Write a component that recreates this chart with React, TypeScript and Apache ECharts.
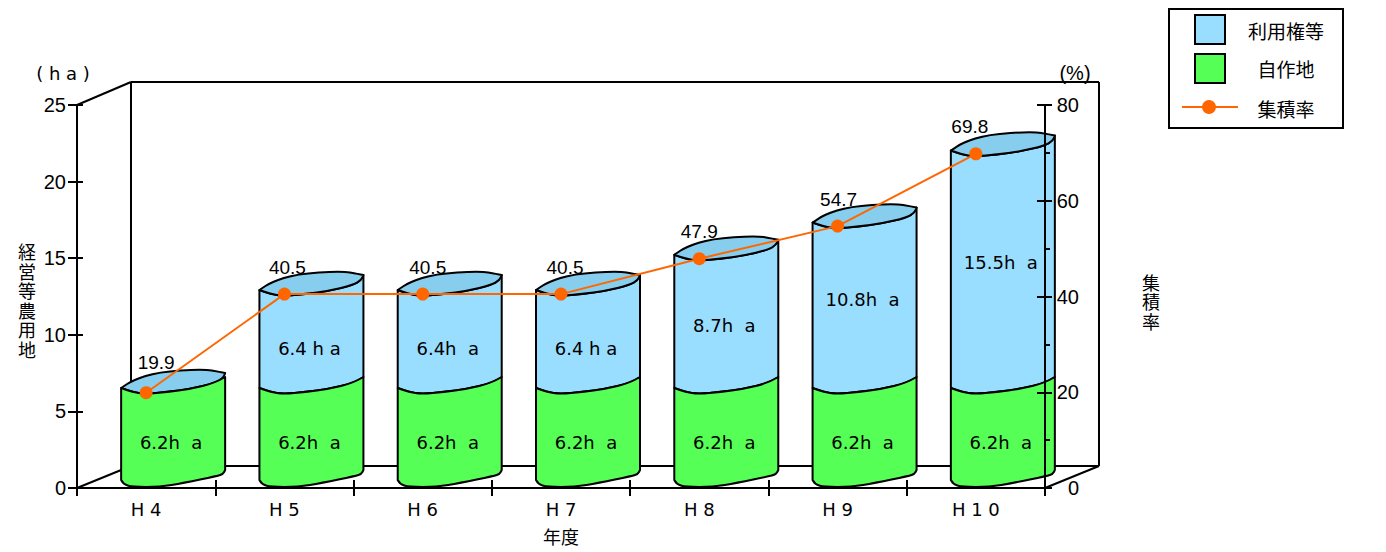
import React, { useEffect, useRef } from "react";
import * as echarts from "echarts";

const years = ["H 4", "H 5", "H 6", "H 7", "H 8", "H 9", "H 1 0"];
const ownedLand = [6.2, 6.2, 6.2, 6.2, 6.2, 6.2, 6.2];
const leasedLand = [0, 6.4, 6.4, 6.4, 8.7, 10.8, 15.5];
const ownedLabels = ["6.2h  a", "6.2h  a", "6.2h  a", "6.2h  a", "6.2h  a", "6.2h  a", "6.2h  a"];
const leasedLabels = ["", "6.4 h a", "6.4h  a", "6.4 h a", "8.7h  a", "10.8h  a", "15.5h  a"];
const leasedLabelLevels = [0, 9.1, 9.1, 9.1, 10.6, 12.3, 14.7];
const concentrationRate = [19.9, 40.5, 40.5, 40.5, 47.9, 54.7, 69.8];
const rateLabelOffsets = [[10, -9], [3, -6], [5, -6], [4, -6], [0, -6], [1, -6], [-6, -6]];

const ORANGE = "#FF6600";
const BLUE = "#99DDFF";
const BLUE_TOP = "#87CEEE";
const GREEN = "#55FF55";
const LATIN = '"Liberation Sans", Arial, sans-serif';
const WIDE = '"DejaVu Sans", sans-serif';
const CJK = '"Noto Sans CJK JP", sans-serif';

// Outline offsets of a drum around its category centre
const FRONT = [[-24, -5], [-13, -1], [0, 1], [22, -1], [45, -4], [70, -10], [78, -15], [80, -20]];
const SEAM = [[-24, -5], [-13, -1], [0, 1], [22, -1], [45, -4], [70, -10], [80, -16]];
const BACK = [[80, -20], [75, -21], [58, -24], [13, -21], [-12, -13], [-24, -5]];
const FOOT = [[-24, -8], [-22, -4], [-13, -1], [15, -1], [38, -5], [72, -12], [78, -14], [80, -18]];

type Pt = number[];
const place = (pts: Pt[], x: number, y: number) => pts.map((p) => [x + p[0], y + p[1]]);
const pen = (pts: Pt[], start: string) => {
  let d = `${start}${pts[0][0]} ${pts[0][1]}`;
  for (let i = 1; i < pts.length - 1; i++) {
    const mx = (pts[i][0] + pts[i + 1][0]) / 2;
    const my = (pts[i][1] + pts[i + 1][1]) / 2;
    d += `Q${pts[i][0]} ${pts[i][1]} ${mx} ${my}`;
  }
  const last = pts[pts.length - 1];
  return d + `L${last[0]} ${last[1]}`;
};

function drumBody(api: any, fill: string, withCap: boolean, labels: string[], levels: number[]) {
  const i = api.value(0);
  const [cx, yLow] = api.coord([i, api.value(1)]);
  const x = cx - 1;
  const yHigh = api.coord([i, api.value(2)])[1];
  const lower = place(api.value(1) === 0 ? FOOT : SEAM, x, yLow);
  const upper = place(withCap ? FRONT : SEAM, x, yHigh);
  const line = { stroke: "#000", lineWidth: 2, lineJoin: "round" };
  const children: any[] = [];
  if (yLow !== yHigh) {
    const outline = pen(lower, "M") + pen(upper.slice().reverse(), "L") + "Z";
    children.push({ type: "path", shape: { pathData: outline }, style: { fill, ...line } });
  }
  if (withCap) {
    const cap = pen(upper, "M") + pen(place(BACK, x, yHigh), "L") + "Z";
    children.push({ type: "path", shape: { pathData: cap }, style: { fill: BLUE_TOP, ...line } });
  }
  if (labels[i]) {
    children.push({
      type: "text",
      style: {
        x: x + 26,
        y: api.coord([i, levels[i]])[1],
        text: labels[i],
        align: "center",
        verticalAlign: "middle",
        fill: "#000",
        font: `18px ${WIDE}`,
      },
    });
  }
  return { type: "group", children };
}

const tickStyle = { show: true, lineStyle: { color: "#000", width: 2 } };
const frame = { stroke: "#000", lineWidth: 2 };
const frameLine = (x1: number, y1: number, x2: number, y2: number) => ({
  type: "line",
  shape: { x1, y1, x2, y2 },
  style: frame,
  z: 0,
});
const caption = (text: string, x: number, y: number, font: string) => ({
  type: "text",
  x,
  y,
  style: { text, font, fill: "#000", align: "center", verticalAlign: "middle" },
  z: 10,
});
const stackedCaption = (text: string, x: number, y: number) => ({
  type: "text",
  x,
  y,
  style: {
    text,
    font: `18px ${CJK}`,
    lineHeight: 19.5,
    fill: "#000",
    align: "center",
    verticalAlign: "middle",
  },
  z: 10,
});

export default function App() {
  const host = useRef<HTMLDivElement>(null);

  useEffect(() => {
    const chart = echarts.init(host.current!, undefined, { renderer: "svg" });
    const axisText = { color: "#000", fontFamily: LATIN, fontSize: 20 };
    const nameText = { color: "#000", fontFamily: CJK, fontSize: 18, lineHeight: 19.5 };

    chart.setOption({
      animation: false,
      backgroundColor: "#fff",
      grid: { left: 77, right: 341, top: 105, bottom: 64, outerBoundsMode: "none" },
      xAxis: [
        {
          type: "category",
          data: years,
          z: 6,
          name: "年度",
          nameLocation: "middle",
          nameGap: 38,
          nameTextStyle: nameText,
          axisLine: { lineStyle: { color: "#000", width: 2 } },
          axisTick: { ...tickStyle, length: 8 },
          axisLabel: { color: "#000", fontFamily: WIDE, fontSize: 18, margin: 12 },
        },
        {
          type: "category",
          data: years,
          position: "bottom",
          z: 6,
          axisLine: { show: false },
          axisTick: { ...tickStyle, inside: true, length: 8 },
          axisLabel: { show: false },
        },
      ],
      yAxis: [
        {
          type: "value",
          min: 0,
          max: 25,
          interval: 5,
          position: "left",
          z: 6,
          axisLine: { show: true, lineStyle: { color: "#000", width: 2 } },
          axisTick: { ...tickStyle, length: 9 },
          axisLabel: { ...axisText, margin: 11 },
          splitLine: { show: false },
        },
        {
          type: "value",
          min: 0,
          max: 80,
          interval: 20,
          position: "right",
          z: 6,
          axisLine: { show: true, lineStyle: { color: "#000", width: 2 } },
          axisTick: { ...tickStyle, length: 7 },
          minorTick: { show: true, splitNumber: 2, length: 5, lineStyle: { color: "#000", width: 2 } },
          axisLabel: { ...axisText, margin: 34, align: "right" },
          splitLine: { show: false },
        },
        {
          type: "value",
          min: 0,
          max: 25,
          interval: 5,
          position: "left",
          z: 6,
          axisLine: { show: false },
          axisTick: { ...tickStyle, inside: true, length: 6 },
          axisLabel: { show: false },
          splitLine: { show: false },
        },
        {
          type: "value",
          min: 0,
          max: 80,
          interval: 20,
          position: "right",
          z: 6,
          axisLine: { show: false },
          axisTick: { ...tickStyle, inside: true, length: 8 },
          axisLabel: { show: false },
          splitLine: { show: false },
        },
      ],
      graphic: {
        elements: [
          // Back walls and floor of the box the drums stand in
          frameLine(77, 105, 131, 82),
          frameLine(131, 82, 1099, 82),
          frameLine(131, 82, 131, 466),
          frameLine(1099, 82, 1099, 466),
          frameLine(131, 466, 1099, 466),
          frameLine(77, 488, 131, 466),
          frameLine(1045, 488, 1099, 466),
          caption("( h a )", 63, 73, `18px ${WIDE}`),
          caption("(%)", 1075, 73, `20px ${LATIN}`),
          stackedCaption("経\n営\n等\n農\n用\n地", 27, 300),
          stackedCaption("集\n積\n率", 1151, 301),
          // Key
          { type: "rect", shape: { x: 1169, y: 9, width: 174, height: 119 }, style: { fill: "#fff", ...frame }, z: 9 },
          { type: "rect", shape: { x: 1195, y: 15, width: 30, height: 29 }, style: { fill: BLUE, ...frame }, z: 10 },
          { type: "rect", shape: { x: 1195, y: 54, width: 30, height: 29 }, style: { fill: GREEN, ...frame }, z: 10 },
          { type: "line", shape: { x1: 1182, y1: 107, x2: 1238, y2: 107 }, style: { stroke: ORANGE, lineWidth: 2 }, z: 10 },
          { type: "circle", shape: { cx: 1209, cy: 107, r: 7 }, style: { fill: ORANGE }, z: 10 },
          caption("利用権等", 1286, 30, `19px ${CJK}`),
          caption("自作地", 1286, 68, `19px ${CJK}`),
          caption("集積率", 1286, 108, `19px ${CJK}`),
        ],
      },
      series: [
        {
          name: "利用権等",
          type: "custom",
          z: 3,
          encode: { x: 0, y: 2 },
          data: leasedLand.map((v, i) => [i, ownedLand[i], +(ownedLand[i] + v).toFixed(1)]),
          renderItem: (_p: any, api: any) => drumBody(api, BLUE, true, leasedLabels, leasedLabelLevels),
        },
        {
          name: "自作地",
          type: "custom",
          z: 4,
          encode: { x: 0, y: 2 },
          data: ownedLand.map((v, i) => [i, 0, v]),
          renderItem: (_p: any, api: any) =>
            drumBody(api, GREEN, false, ownedLabels, ownedLand.map((v) => v / 2 - 0.1)),
        },
        {
          name: "集積率",
          type: "line",
          yAxisIndex: 1,
          z: 8,
          symbol: "circle",
          symbolSize: 13,
          lineStyle: { color: ORANGE, width: 2 },
          itemStyle: { color: ORANGE },
          data: concentrationRate.map((value, i) => ({
            value,
            label: {
              show: true,
              position: "top",
              offset: rateLabelOffsets[i],
              color: "#000",
              fontFamily: LATIN,
              fontSize: 19,
              formatter: value.toFixed(1),
            },
          })),
        },
      ],
    });
    return () => chart.dispose();
  }, []);

  return <div ref={host} style={{ position: "absolute", left: 0, top: 0, width: 1386, height: 552 }} />;
}
